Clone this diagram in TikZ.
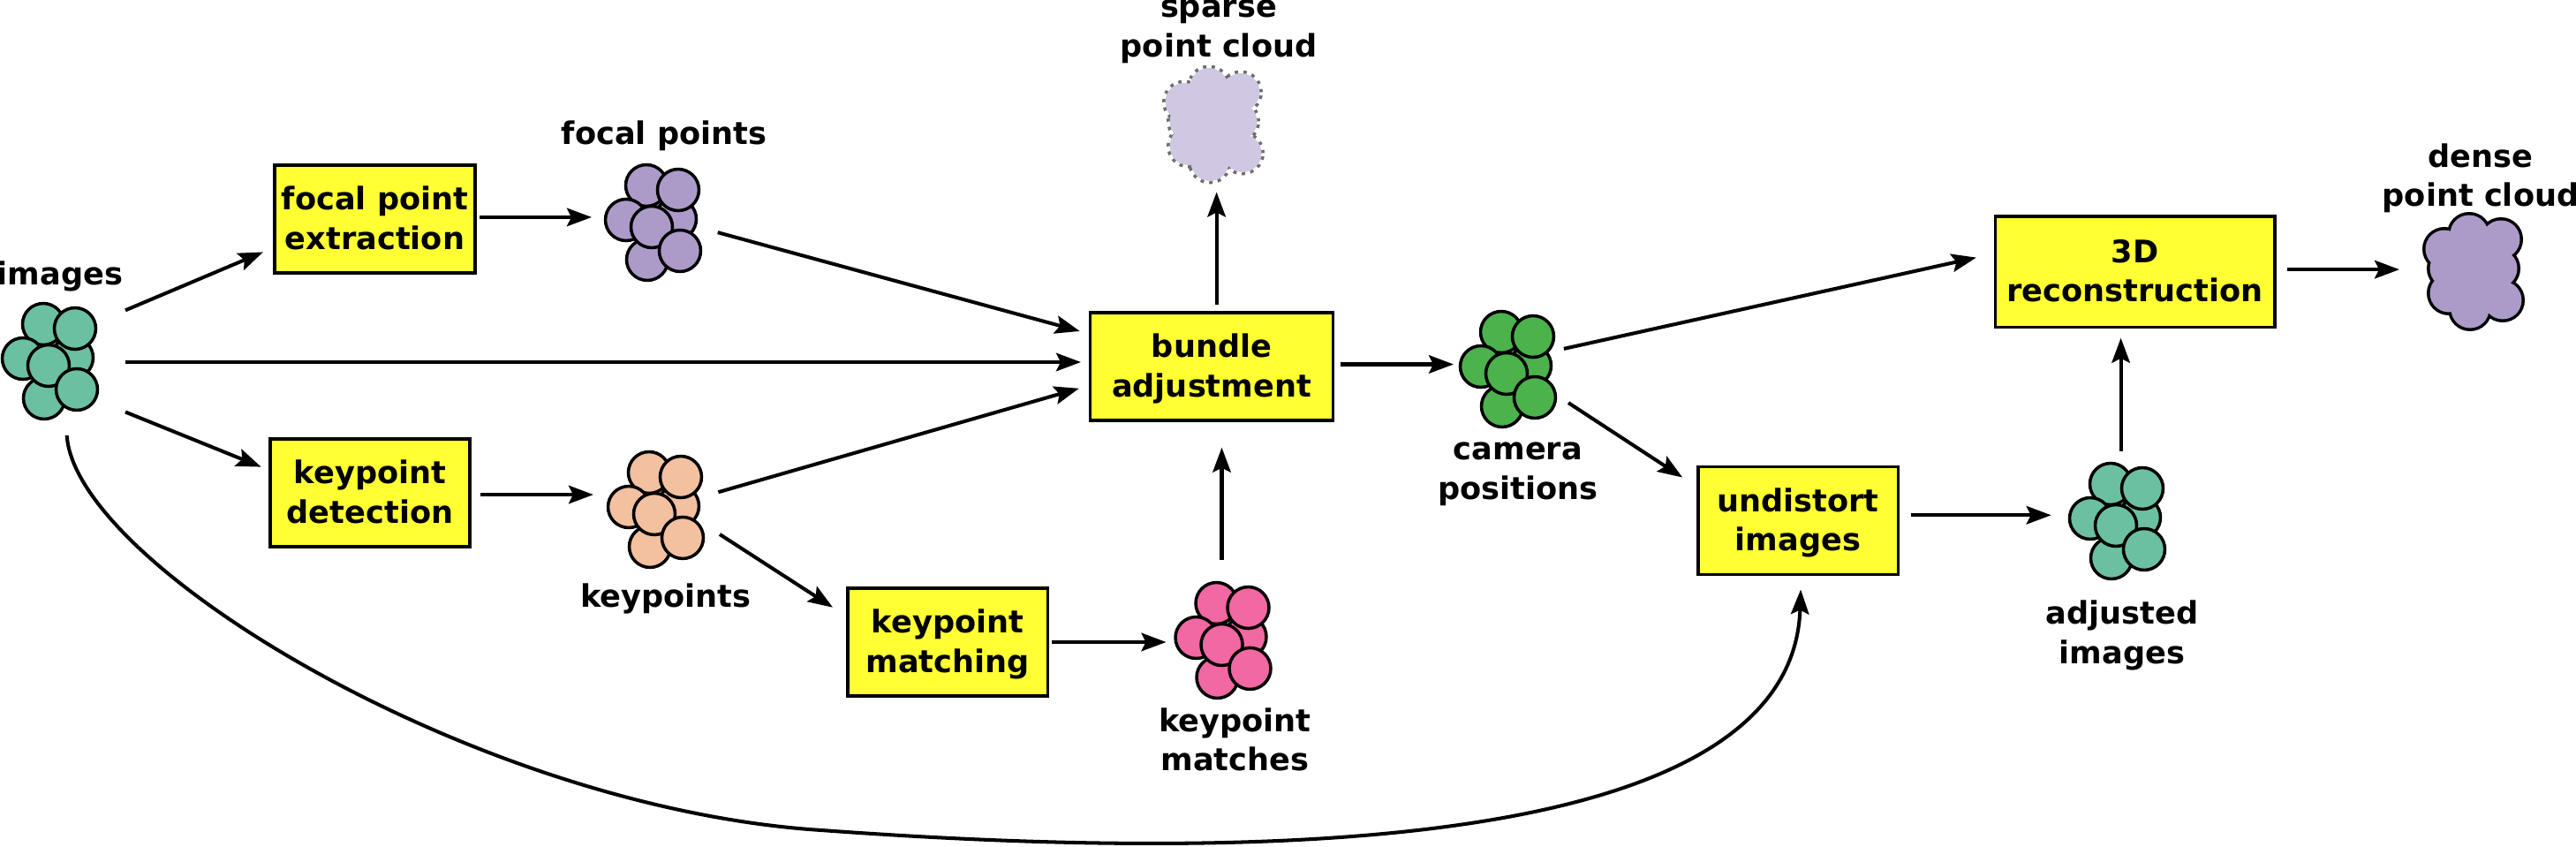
\documentclass[tikz,border=0pt]{standalone}
\usepackage{xcolor}
\usepackage{fontspec}
\setmainfont{DejaVu Sans}
\usepackage{tikz}
\usetikzlibrary{arrows.meta, calc}

\definecolor{tealfill}{HTML}{6CC0A2}
\definecolor{lilacfill}{HTML}{AC9BC9}
\definecolor{palelilac}{HTML}{D0C8E2}
\definecolor{peachfill}{HTML}{F3C0A0}
\definecolor{pinkfill}{HTML}{F268A3}
\definecolor{greenfill}{HTML}{4CB24C}
\definecolor{boxyellow}{HTML}{FFFF33}
\definecolor{dotgray}{HTML}{6E6E6E}

% seven overlapping discs round a node
\newcommand{\imgstack}[2]{
  \foreach \dx/\dy in {27/5, -6/43, 30/38, -29/4, -5/-41, 0/-4, 32/-31}
    \draw [line width=1pt, fill=#2] ($(#1)+(0.01*\dx,0.01*\dy)$) circle (0.235);
}
% lobes merged into one outline
\newcommand{\imgcloud}[3]{
  \foreach \dx/\dy in {-6/44, 30/38, 27/5, 32/-31, -5/-41, -29/-23, -29/5, -34/27}
    \draw [#3] ($(#1)+(0.01*\dx,0.01*\dy)$) circle (0.215);
  \foreach \dx/\dy in {-6/44, 30/38, 27/5, 32/-31, -5/-41, -29/-23, -29/5, -34/27}
    \fill [#2] ($(#1)+(0.01*\dx,0.01*\dy)$) circle (0.215);
  \fill [#2] (#1) circle (0.35);
}

\begin{document}
\begin{tikzpicture}[node distance=2cm]

\tikzstyle{process} = [rectangle, minimum width=2.265cm, minimum height=1.22cm, inner sep=0pt, outer sep=0.5mm, text centered, align=center, text depth=0.8pt, line width=1pt, draw=black, fill=boxyellow, font=\fontsize{10}{12.7}\selectfont\bfseries]
\tikzstyle{stack} = [rectangle, minimum width=1.4cm, minimum height=1.4cm, inner sep=0pt, outer sep=0pt]
\tikzstyle{caption} = [inner sep=0pt, align=center, font=\fontsize{10}{12.7}\selectfont\bfseries]
\tikzstyle{arrow} = [line width=1.15pt,->,>={Stealth[length=2.8mm,width=2.05mm,inset=0.5mm]}]

\useasboundingbox (-0.55,-5.49) rectangle (28.62,4.10);

% Nodes
\node (images) [stack, minimum width=1.74cm, minimum height=1.66cm] at (0,0) {};
\node (focalbox) [process, right of=images, xshift=1.695cm, yshift=1.62cm] {focal point\\extraction};
\node (focalpts) [stack, minimum width=1.36cm, right of=focalbox, xshift=1.135cm, yshift=-0.05cm] {};
\node (detect) [process, right of=images, xshift=1.64cm, yshift=-1.48cm] {keypoint\\detection};
\node (keypts) [stack, minimum width=1.38cm, right of=detect, xshift=1.22cm, yshift=-0.20cm] {};
\node (matching) [process, right of=keypts, xshift=1.32cm, yshift=-1.49cm] {keypoint\\matching};
\node (matches) [stack, minimum width=1.26cm, minimum height=1.84cm, right of=matching, xshift=1.105cm, yshift=0.01cm] {};
\node (bundle) [process, minimum width=2.75cm, above of=matches, xshift=-0.115cm, yshift=1.11cm] {bundle\\adjustment};
\node (sparse) [stack, minimum height=1.5cm, above of=bundle, xshift=0.03cm, yshift=0.725cm] {};
\node (campos) [stack, minimum width=1.2cm, right of=bundle, xshift=1.34cm, yshift=-0.04cm] {};
\node (undistort) [process, right of=campos, xshift=1.30cm, yshift=-1.705cm] {undistort\\images};
\node (adjusted) [stack, minimum width=1.466cm, minimum height=1.6cm, right of=undistort, xshift=1.60cm, yshift=-0.015cm] {};
\node (recon) [process, minimum width=3.165cm, minimum height=1.255cm, above of=adjusted, xshift=0.217cm, yshift=0.83cm] {3D\\reconstruction};
\node (dense) [stack, minimum width=1.7cm, right of=recon, xshift=1.843cm, yshift=-0.01cm] {};

% Captions
\node (imageslabel) [caption, above of=images, xshift=0.13cm, yshift=-1.03cm] {images};
\node (focalptslabel) [caption, above of=focalpts, xshift=0.14cm, yshift=-1.01cm] {focal points};
\node (keyptslabel) [caption, below of=keypts, xshift=0.13cm, yshift=1.00cm] {keypoints};
\node (matcheslabel) [caption, below of=matches, xshift=0.15cm, yshift=0.885cm] {keypoint\\matches};
\node (sparselabel) [caption, above of=sparse, xshift=0.05cm, yshift=-0.932cm] {sparse\\point cloud};
\node (camposlabel) [caption, below of=campos, xshift=0.13cm, yshift=0.82cm] {camera\\positions};
\node (adjustedlabel) [caption, below of=adjusted, xshift=0.07cm, yshift=0.713cm] {adjusted\\images};
\node (denselabel) [caption, above of=dense, xshift=0.07cm, yshift=-0.927cm] {dense\\point cloud};

% Stacks and clouds
\imgstack{images}{tealfill}
\imgstack{focalpts}{lilacfill}
\imgstack{keypts}{peachfill}
\imgstack{matches}{pinkfill}
\imgstack{campos}{greenfill}
\imgstack{adjusted}{tealfill}
\imgcloud{sparse}{palelilac}{line width=2pt, dotgray, dash pattern=on 1pt off 1.6pt}
\imgcloud{dense}{lilacfill}{line width=2pt}

% Arrows
\draw [arrow, shorten >=0.9mm] (images.34) -- (focalbox.196.8);
\draw [arrow, shorten >=0.55mm] (images.0) -- (images.0 -| bundle.west);
\draw [arrow, shorten >=0.55mm] (images.-33) -- (detect.167.1);
\draw [arrow] (focalbox.1) -- (focalbox.1 -| focalpts.west);
\draw [arrow, shorten <=0.7mm, shorten >=0.7mm] (focalpts.-7.5) -- (bundle.165);
\draw [arrow, shorten <=0.7mm] (detect.-1) -- (detect.-1 -| keypts.west);
\draw [arrow, shorten <=0.35mm, shorten >=0.8mm] (keypts.16.5) -- (bundle.189.5);
\draw [arrow, shorten <=0.6mm, shorten >=1.4mm] (keypts.-19.7) -- (matching.165.8);
\draw [arrow] (matching.east) -- (matching.east -| matches.west);
\draw [arrow, shorten >=2.57mm] (matches.north) -- (matches.north |- bundle.south);
\draw [arrow, shorten <=0.4mm] (sparse.-88 |- bundle.north) -- (sparse.-88);
\draw [arrow, shorten <=0.35mm] (bundle.1.7) -- (bundle.1.7 -| campos.west);
\draw [arrow, shorten <=0.5mm, shorten >=1.7mm] (campos.21.8) -- (recon.173.9);
\draw [arrow, shorten <=1.2mm, shorten >=1.5mm] (campos.-27.7) -- (undistort.161.2);
\draw [arrow, shorten <=1mm] (undistort.3.5) -- (undistort.3.5 -| adjusted.west);
\draw [arrow, shorten >=0.7mm] (adjusted.86) -- (adjusted.86 |- recon.south);
\draw [arrow, shorten <=0.9mm] (recon.1.4) -- (recon.1.4 -| dense.west);
\coordinate (low) at (8.75,-5.30);
\draw [arrow, shorten >=1.2mm] (images.-76) .. controls (0.30,-2.30) and (4.85,-5.05) .. (low) .. controls (13.95,-5.68) and (19.75,-5.50) .. (undistort.-87.6);

\end{tikzpicture}
\end{document}
